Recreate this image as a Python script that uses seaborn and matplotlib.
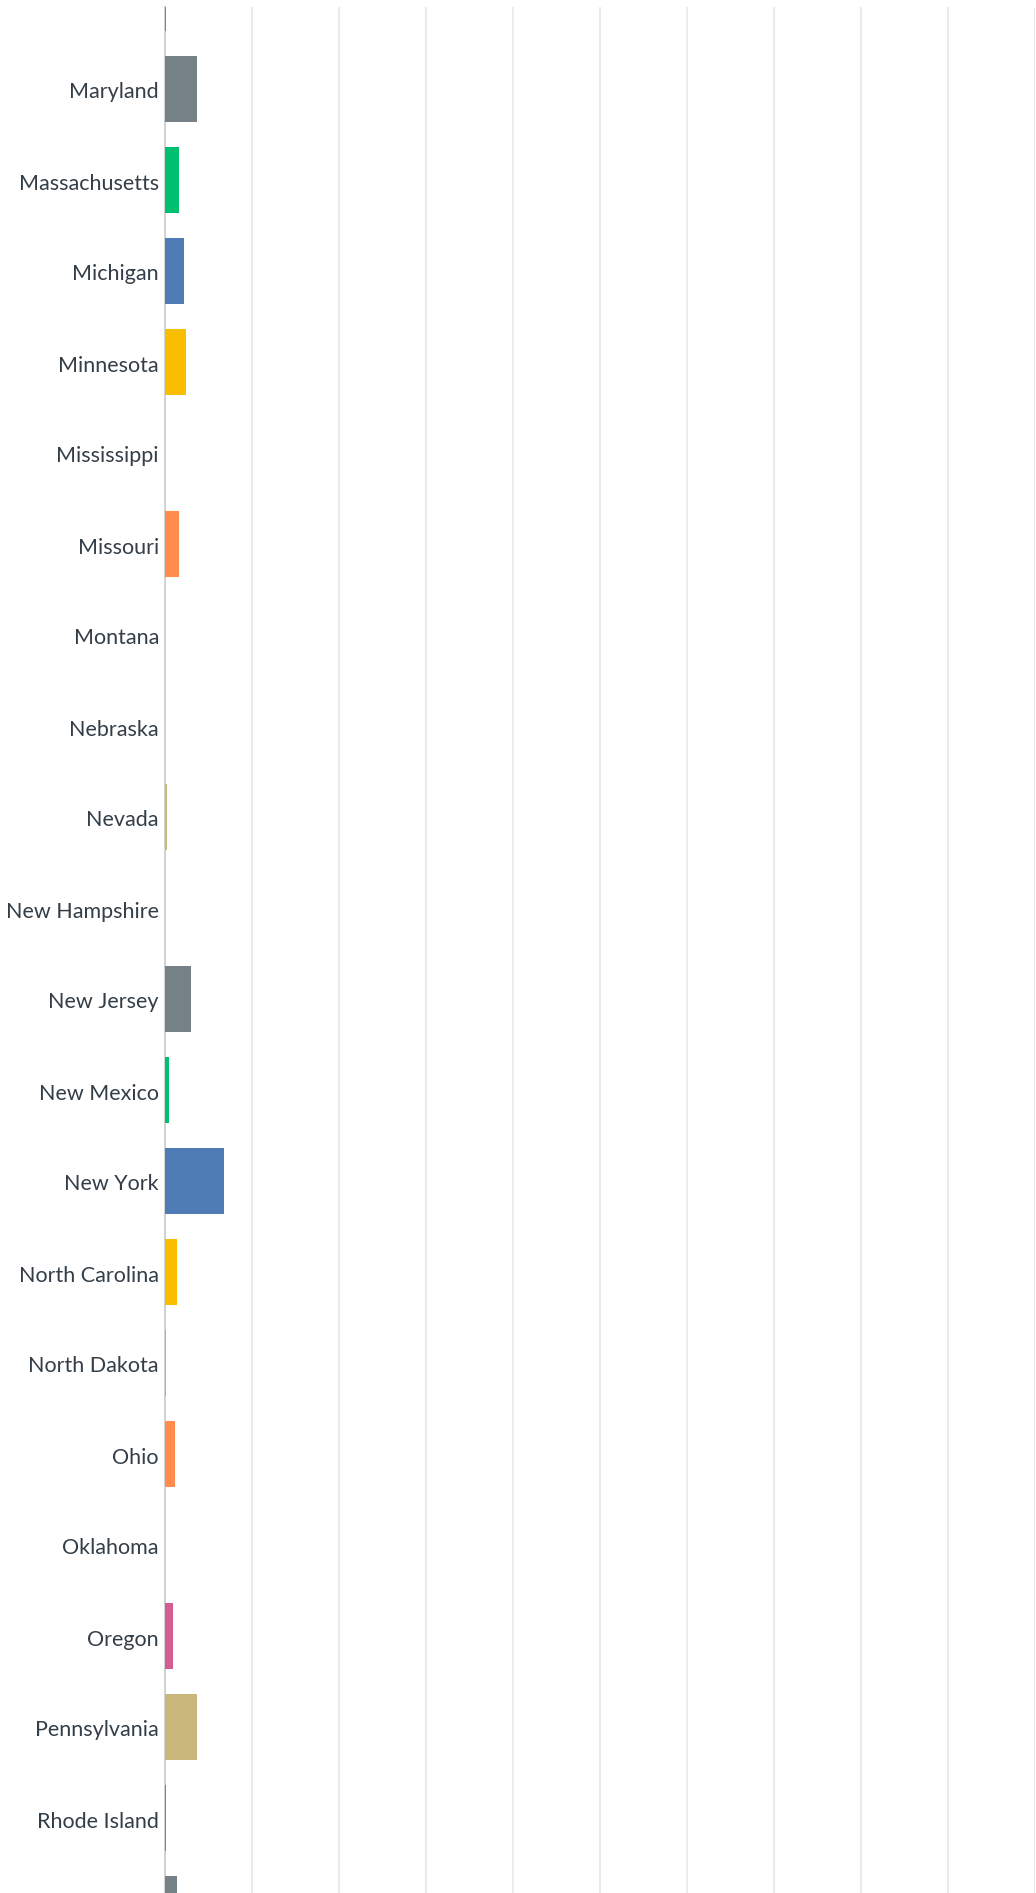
import matplotlib
matplotlib.use("Agg")
import matplotlib.pyplot as plt
import matplotlib.transforms as mtransforms
import seaborn as sns

# states shown in this slice of the chart (Maine and South Carolina are cut off)
states = ['Maine', 'Maryland', 'Massachusetts', 'Michigan', 'Minnesota',
          'Mississippi', 'Missouri', 'Montana', 'Nebraska', 'Nevada',
          'New Hampshire', 'New Jersey', 'New Mexico', 'New York',
          'North Carolina', 'North Dakota', 'Ohio', 'Oklahoma', 'Oregon',
          'Pennsylvania', 'Rhode Island', 'South Carolina']
# percent of respondents
values = [0.20, 3.68, 1.61, 2.19, 2.42,
          0.0, 1.61, 0.0, 0.0, 0.34,
          0.0, 2.99, 0.57, 6.79,
          1.38, 0.15, 1.15, 0.0, 0.92,
          3.68, 0.12, 1.38]
colors = ['#d25f6a', '#768087', '#00bf6f', '#507cb6', '#f9be00',
          '#6bc8cd', '#ff8b4f', '#7f7fff', '#d25f90', '#c9b77b',
          '#d25f6a', '#768087', '#00bf6f', '#507cb6',
          '#f9be00', '#6bc8cd', '#ff8b4f', '#7f7fff', '#d25f90',
          '#c9b77b', '#d25f6a', '#768087']

textcolor = '#333e48'

sns.set_style('white')
plt.rcParams['font.family'] = ['Lato', 'DejaVu Sans']

W, H = 1036, 1893
fig = plt.figure(figsize=(W / 100, H / 100), dpi=100)
fig.set_facecolor('white')
ax = fig.add_axes([164.5 / W, 0, 870.2 / W, 1 - 7 / H])

sns.barplot(x=values, y=states, hue=states, palette=colors, legend=False,
            orient='h', width=0.725, saturation=1, ax=ax, zorder=5,
            linewidth=0, edgecolor='none')

ax.set_xlim(0, 100)
ax.set_ylim((H + 2) / 91, (7 + 2) / 91)
ax.set_xticks(range(0, 101, 10))
ax.set_xticklabels([])
ax.grid(axis='x', color='#ebebeb', linewidth=1.5, zorder=0)
ax.grid(axis='y', visible=False)
ax.set_axisbelow(True)

# Hide everything but the left spine (bars sit on top of it)
for s in ['top', 'right', 'bottom']:
    ax.spines[s].set_visible(False)
ax.spines['left'].set_color('#cfcfcf')
ax.spines['left'].set_linewidth(1.3)
ax.spines['left'].set_zorder(2)

ax.tick_params(axis='both', length=0)
ax.tick_params(axis='y', pad=4, labelsize=15.5, labelcolor=textcolor)
# nudge the labels a touch lower, like the original
shift = mtransforms.ScaledTranslation(0, -1.5 / 100, fig.dpi_scale_trans)
for lab in ax.get_yticklabels():
    lab.set_transform(lab.get_transform() + shift)
ax.set_xlabel('')
ax.set_ylabel('')

plt.savefig('out.png', dpi=100, facecolor='white')
